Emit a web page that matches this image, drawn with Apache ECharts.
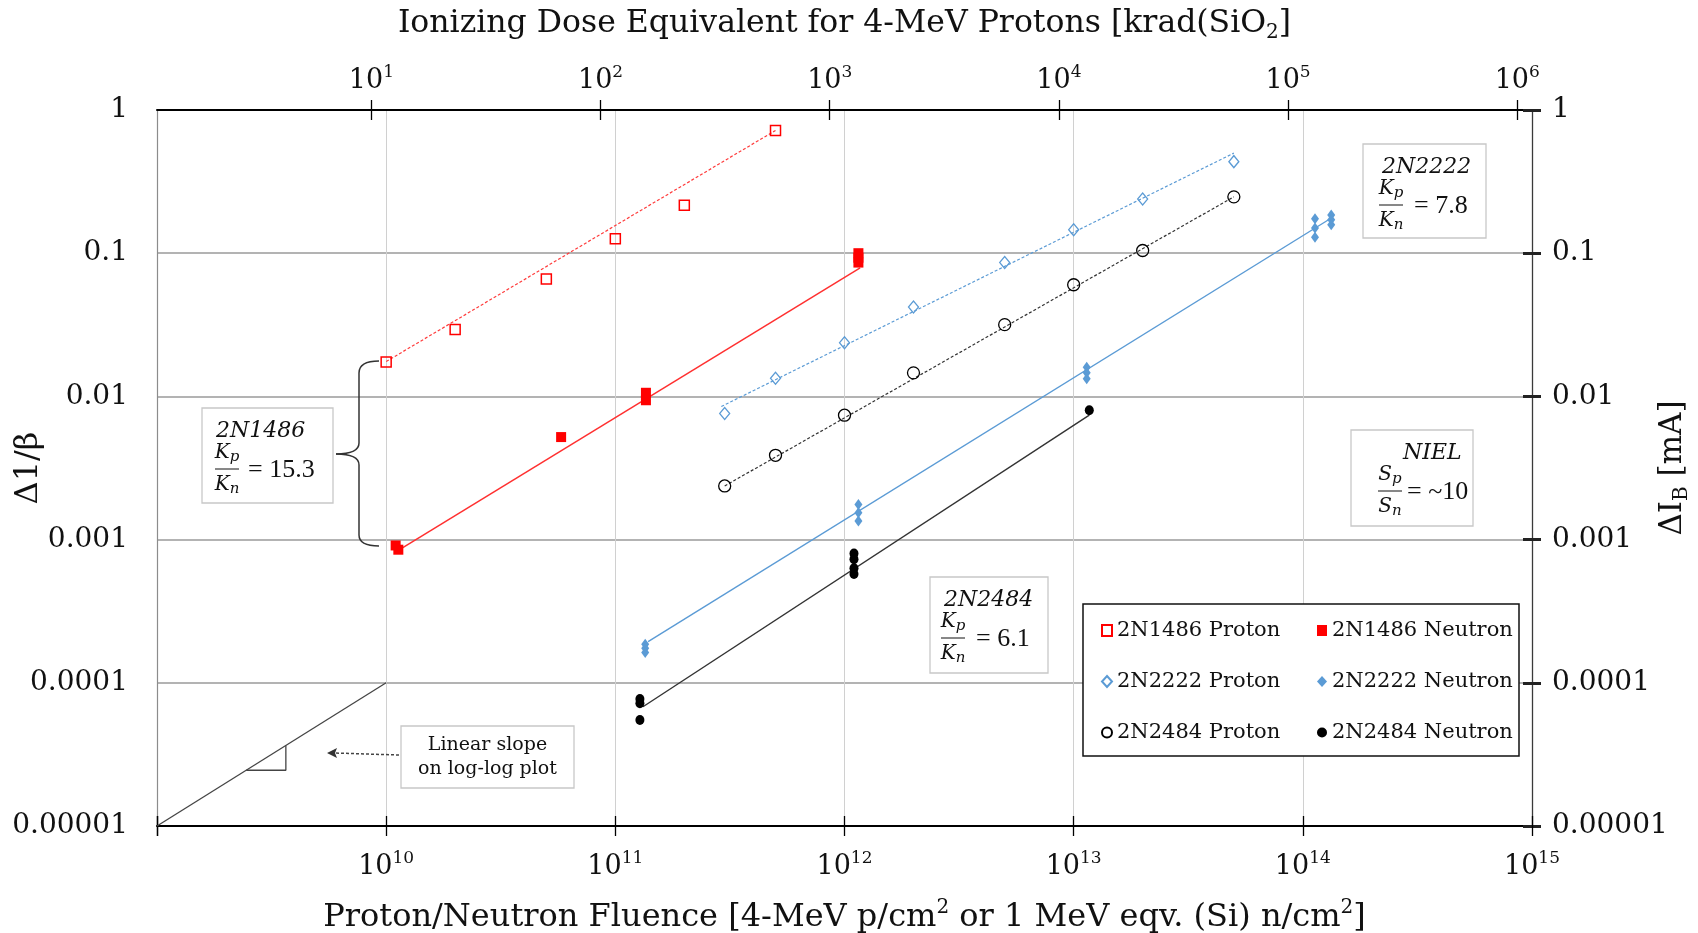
<!DOCTYPE html>
<html>
<head>
<meta charset="utf-8">
<script src="https://cdn.jsdelivr.net/npm/echarts@6/dist/echarts.min.js"></script>
<style>
  html, body { margin: 0; padding: 0; background: #fff; }
  #container { width: 1698px; height: 933px; }
</style>
</head>
<body>
<div id="container"></div>
<script>
var SERIF = '"DejaVu Serif", serif';
var TIMES = '"Liberation Serif", serif';

// measured points [fluence, delta(1/beta)]
var p1486Proton  = [[1e10, 0.0174], [2e10, 0.0293], [5e10, 0.066], [1e11, 0.126], [2e11, 0.216], [5e11, 0.72]];
var p1486Neutron = [[1.1e10, 9.1e-4], [1.13e10, 8.5e-4], [5.8e10, 5.2e-3], [1.36e11, 0.0106], [1.36e11, 0.0094],
                    [1.15e12, 0.100], [1.15e12, 0.093], [1.15e12, 0.086]];
var p2222Proton  = [[3e11, 0.0076], [5e11, 0.0134], [1e12, 0.0237], [2e12, 0.0421], [5e12, 0.0862],
                    [1e13, 0.1456], [2e13, 0.2395], [5e13, 0.436]];
var p2222Neutron = [[1.35e11, 1.86e-4], [1.35e11, 1.74e-4], [1.35e11, 1.63e-4],
                    [1.15e12, 1.76e-3], [1.15e12, 1.54e-3], [1.15e12, 1.35e-3],
                    [1.14e13, 0.0160], [1.14e13, 0.0146], [1.14e13, 0.0133],
                    [1.13e14, 0.174], [1.13e14, 0.150], [1.13e14, 0.129],
                    [1.33e14, 0.185], [1.33e14, 0.171], [1.33e14, 0.158]];
var p2484Proton  = [[3e11, 0.00237], [5e11, 0.00388], [1e12, 0.00739], [2e12, 0.0146], [5e12, 0.0317],
                    [1e13, 0.0602], [2e13, 0.1044], [5e13, 0.2474]];
var p2484Neutron = [[1.28e11, 7.7e-5], [1.28e11, 7.2e-5], [1.28e11, 5.5e-5],
                    [1.1e12, 8.0e-4], [1.1e12, 7.3e-4], [1.1e12, 6.3e-4], [1.1e12, 5.75e-4],
                    [1.17e13, 0.0080]];

// fitted trend lines (end points)
var t1486Proton  = [[1e10, 0.0175], [5e11, 0.72]];
var t1486Neutron = [[1.13e10, 8.4e-4], [1.17e12, 0.079]];
var t2222Proton  = [[2.9e11, 0.0085], [5e13, 0.50]];
var t2222Neutron = [[1.39e11, 1.94e-4], [1.3e14, 0.172]];
var t2484Proton  = [[3e11, 0.00237], [5e13, 0.2474]];
var t2484Neutron = [[1.32e11, 6.8e-5], [1.17e13, 0.0074]];

// "linear slope" guide
var slopeLine     = [[1e9, 1e-5], [1e10, 1e-4]];
var slopeTriangle = [[2.45e9, 2.45e-5], [3.65e9, 2.45e-5], [3.65e9, 3.65e-5]];

// axes
var fluenceMin = 1e9, fluenceMax = 1e15;
var doseMin = 1.16, doseMax = 1.16e6;   // top axis is shifted a bit against the bottom one
var yMin = 1e-5, yMax = 1;
var fluenceLabelTicks = [1e10, 1e11, 1e12, 1e13, 1e14, 0.99999e15];
var doseTicks = [1e1, 1e2, 1e3, 1e4, 1e5, 1e6];
var yTickLabels = ['1', '0.1', '0.01', '0.001', '0.0001', '0.00001'];

var dom = document.getElementById('container');
var myChart = echarts.init(dom);

var tickRich = {
    b: {fontFamily: SERIF, fontSize: 27, color: '#111', lineHeight: 34},
    s: {fontFamily: SERIF, fontSize: 17, color: '#111', lineHeight: 18, verticalAlign: 'top'}
};

function powLabel(v) {
    var e = Math.round(Math.log10(v));
    return '{b|10}{s|' + e + '}';
}

function yLabel(v) {
    var e = Math.round(-Math.log10(v));
    return yTickLabels[e] || '';
}

function fracText(x, y, letter, sub) {
    return {
        type: 'text', x: x, y: y,
        style: {
            text: '{k|' + letter + '}{s|' + sub + '}',
            align: 'center', verticalAlign: 'middle',
            textAlign: 'center', textVerticalAlign: 'middle',
            rich: {
                k: {fontFamily: SERIF, fontStyle: 'italic', fontSize: 20, fill: '#111', color: '#111', lineHeight: 24},
                s: {fontFamily: SERIF, fontStyle: 'italic', fontSize: 15, fill: '#111', color: '#111', lineHeight: 24, verticalAlign: 'bottom'}
            }
        }
    };
}

// boxed note: title, fraction, "= value"
function noteBox(x, y, w, h, title, tdx, letter, fdx, valueText, edx) {
    return {
        type: 'group', x: x, y: y, z: 3,
        children: [
            {type: 'rect', shape: {x: 0, y: 0, width: w, height: h},
             style: {fill: '#fff', stroke: '#c8c8c8', lineWidth: 1.3}},
            {type: 'text', x: tdx, y: 23,
             style: {text: title, font: 'italic 22px ' + SERIF, fill: '#111',
                     verticalAlign: 'middle', textVerticalAlign: 'middle'}},
            fracText(fdx, 45, letter, 'p'),
            {type: 'line', shape: {x1: fdx - 12, y1: 61, x2: fdx + 12, y2: 61},
             style: {stroke: '#111', lineWidth: 1}},
            fracText(fdx, 77, letter, 'n'),
            {type: 'text', x: edx, y: 62,
             style: {text: valueText, font: '26px ' + TIMES, fill: '#111',
                     verticalAlign: 'middle', textVerticalAlign: 'middle'}}
        ]
    };
}

function brace(x1, y1, cx, cy, x2, y2) {
    return {type: 'bezierCurve', z: 3,
            shape: {x1: x1, y1: y1, cpx1: cx, cpy1: cy, x2: x2, y2: y2},
            style: {stroke: '#333', lineWidth: 1.5, fill: null}};
}

function segment(x1, y1, x2, y2) {
    return {type: 'line', z: 3, shape: {x1: x1, y1: y1, x2: x2, y2: y2},
            style: {stroke: '#333', lineWidth: 1.5}};
}

function scatterSeries(name, data, symbol, size, itemStyle) {
    itemStyle.opacity = 1;
    return {
        name: name, type: 'scatter', data: data,
        symbol: symbol, symbolSize: size,
        itemStyle: itemStyle, z: 5, silent: true
    };
}

function trendSeries(data, color, width, dashed) {
    return {
        type: 'line', data: data, symbol: 'none', silent: true, z: 3,
        lineStyle: {color: color, width: width, type: dashed ? [3, 2] : 'solid'}
    };
}

var hollow = 'rgba(255,255,255,0)';
var RED = '#ff0000', BLUE = '#5b9bd5', BLACK = '#000000';

option = {
    backgroundColor: '#ffffff',
    animation: false,
    grid: {left: 157, right: 166, top: 110, bottom: 107, outerBoundsMode: 'none'},
    legend: [
        {
            orient: 'vertical', left: 1096, top: 615, itemGap: 30,
            itemWidth: 10, itemHeight: 11, z: 6,
            textStyle: {fontFamily: SERIF, fontSize: 21, color: '#111'},
            data: ['2N1486 Proton', '2N2222 Proton', '2N2484 Proton']
        },
        {
            orient: 'vertical', left: 1312, top: 615, itemGap: 30,
            itemWidth: 10, itemHeight: 11, z: 6,
            textStyle: {fontFamily: SERIF, fontSize: 21, color: '#111'},
            data: ['2N1486 Neutron', '2N2222 Neutron', '2N2484 Neutron']
        }
    ],
    xAxis: [
        {
            type: 'log', logBase: 10, position: 'bottom', min: fluenceMin, max: fluenceMax,
            name: '{t|Proton/Neutron Fluence [4-MeV p/cm}{u|2}{t| or 1 MeV eqv. (Si) n/cm}{u|2}{t|]}',
            nameLocation: 'middle', nameGap: 72,
            nameTextStyle: {rich: {
                t: {fontFamily: SERIF, fontSize: 32, color: '#111', lineHeight: 40},
                u: {fontFamily: SERIF, fontSize: 20, color: '#111', lineHeight: 22, verticalAlign: 'top'}
            }},
            axisLine: {onZero: false, lineStyle: {color: '#000', width: 2}},
            axisTick: {show: true, length: 10, lineStyle: {color: '#000', width: 1.3}},
            axisLabel: {customValues: fluenceLabelTicks, formatter: powLabel, rich: tickRich, margin: 24},
            splitLine: {show: true, lineStyle: {color: '#d0d0d0', width: 1}},
            minorTick: {show: false}, minorSplitLine: {show: false}
        },
        {
            type: 'log', logBase: 10, position: 'top', min: doseMin, max: doseMax,
            name: '{t|Ionizing Dose Equivalent for 4-MeV Protons [krad(SiO}{d|2}{t|]}',
            nameLocation: 'middle', nameGap: 67,
            nameTextStyle: {rich: {
                t: {fontFamily: SERIF, fontSize: 31.5, color: '#111', lineHeight: 38},
                d: {fontFamily: SERIF, fontSize: 20, color: '#111', lineHeight: 22, verticalAlign: 'bottom'}
            }},
            axisLine: {onZero: false, lineStyle: {color: '#000', width: 2}},
            axisTick: {show: true, customValues: doseTicks, length: 10, lineStyle: {color: '#000', width: 1.3}},
            axisLabel: {customValues: doseTicks, formatter: powLabel, rich: tickRich, margin: 12},
            splitLine: {show: false}
        },
        // inner halves of the crossing ticks
        {
            type: 'log', logBase: 10, position: 'bottom', min: fluenceMin, max: fluenceMax,
            axisLine: {show: false, onZero: false},
            axisTick: {show: true, inside: true, length: 10, lineStyle: {color: '#000', width: 1.3}},
            axisLabel: {show: false}, splitLine: {show: false}
        },
        {
            type: 'log', logBase: 10, position: 'top', min: doseMin, max: doseMax,
            axisLine: {show: false, onZero: false},
            axisTick: {show: true, inside: true, customValues: doseTicks, length: 10, lineStyle: {color: '#000', width: 1.3}},
            axisLabel: {show: false}, splitLine: {show: false}
        }
    ],
    yAxis: [
        {
            type: 'log', logBase: 10, position: 'left', min: yMin, max: yMax,
            name: 'Δ1/β', nameLocation: 'middle', nameGap: 112, nameRotate: 90, nameMoveOverlap: false,
            nameTextStyle: {fontFamily: SERIF, fontSize: 32, color: '#111'},
            axisLine: {onZero: false, lineStyle: {color: '#8c8c8c', width: 1.2}},
            axisTick: {show: false},
            axisLabel: {formatter: yLabel, fontFamily: SERIF, fontSize: 28, color: '#111', margin: 29},
            splitLine: {show: true, lineStyle: {color: '#9a9a9a', width: 1.5}}
        },
        {
            type: 'log', logBase: 10, position: 'right', min: yMin, max: yMax,
            name: '{t|ΔI}{d|B}{t| [mA]}', nameLocation: 'middle', nameGap: 122, nameRotate: 90, nameMoveOverlap: false,
            nameTextStyle: {rich: {
                t: {fontFamily: SERIF, fontSize: 31, color: '#111', lineHeight: 38},
                d: {fontFamily: SERIF, fontSize: 20, color: '#111', lineHeight: 22, verticalAlign: 'bottom'}
            }},
            axisLine: {onZero: false, lineStyle: {color: '#3a3a3a', width: 1.3}},
            axisTick: {show: true, length: 9, lineStyle: {color: '#222', width: 3}},
            axisLabel: {formatter: yLabel, fontFamily: SERIF, fontSize: 28, color: '#111', margin: 20},
            splitLine: {show: false}
        },
        {
            type: 'log', logBase: 10, position: 'right', min: yMin, max: yMax,
            axisLine: {show: false, onZero: false},
            axisTick: {show: true, inside: true, length: 9, lineStyle: {color: '#222', width: 3}},
            axisLabel: {show: false}, splitLine: {show: false}
        }
    ],
    graphic: {elements: [
        // legend frame
        {type: 'rect', z: 3, shape: {x: 1083, y: 604, width: 436, height: 152},
         style: {fill: '#fff', stroke: '#111', lineWidth: 1.5}},
        noteBox(202, 408, 131, 95, '2N1486', 14, 'K', 25, '= 15.3', 46),
        noteBox(1363, 144, 123, 94, '2N2222', 19, 'K', 28, '= 7.8', 51),
        noteBox(1351, 430, 122, 96, 'NIEL', 52, 'S', 39, '= ~10', 56),
        noteBox(930, 577, 118, 96, '2N2484', 14, 'K', 23, '= 6.1', 46),
        // brace grouping the 2N1486 curves
        brace(379, 361, 359, 361, 359, 373),
        segment(359, 373, 359, 443),
        brace(359, 443, 359, 454, 336, 454),
        brace(336, 454, 359, 454, 359, 465),
        segment(359, 465, 359, 535),
        brace(359, 535, 359, 546, 379, 546),
        // linear slope note and arrow
        {type: 'group', x: 401, y: 726, z: 3, children: [
            {type: 'rect', shape: {x: 0, y: 0, width: 173, height: 62},
             style: {fill: '#fff', stroke: '#c8c8c8', lineWidth: 1.3}},
            {type: 'text', x: 86.5, y: 19,
             style: {text: 'Linear slope', font: '19px ' + SERIF, fill: '#111',
                     align: 'center', verticalAlign: 'middle', textAlign: 'center', textVerticalAlign: 'middle'}},
            {type: 'text', x: 86.5, y: 43,
             style: {text: 'on log-log plot', font: '19px ' + SERIF, fill: '#111',
                     align: 'center', verticalAlign: 'middle', textAlign: 'center', textVerticalAlign: 'middle'}}
        ]},
        {type: 'polyline', z: 3, shape: {points: [[399, 755], [334, 753]]},
         style: {stroke: '#444', lineWidth: 1.5, lineDash: [3, 2], fill: null}},
        {type: 'polygon', z: 3, shape: {points: [[327, 753], [337, 748], [335, 753], [337, 758]]},
         style: {fill: '#333'}}
    ]},
    series: [
        trendSeries(slopeLine, '#444', 1.3, false),
        trendSeries(slopeTriangle, '#444', 1.3, false),
        trendSeries(t1486Proton, '#ff3b3b', 1.2, true),
        trendSeries(t1486Neutron, '#ff3030', 1.5, false),
        trendSeries(t2222Proton, BLUE, 1.2, true),
        trendSeries(t2222Neutron, BLUE, 1.4, false),
        trendSeries(t2484Proton, '#333', 1.2, true),
        trendSeries(t2484Neutron, '#333', 1.4, false),
        scatterSeries('2N1486 Proton', p1486Proton, 'rect', 10, {color: hollow, borderColor: RED, borderWidth: 1.5}),
        scatterSeries('2N1486 Neutron', p1486Neutron, 'rect', 10, {color: RED}),
        scatterSeries('2N2222 Proton', p2222Proton, 'diamond', [10, 12], {color: hollow, borderColor: BLUE, borderWidth: 1.3}),
        scatterSeries('2N2222 Neutron', p2222Neutron, 'diamond', [8, 11], {color: BLUE}),
        scatterSeries('2N2484 Proton', p2484Proton, 'circle', 12, {color: hollow, borderColor: BLACK, borderWidth: 1.3}),
        scatterSeries('2N2484 Neutron', p2484Neutron, 'circle', [9, 10], {color: BLACK})
    ]
};

myChart.setOption(option, true);
</script>
</body>
</html>
